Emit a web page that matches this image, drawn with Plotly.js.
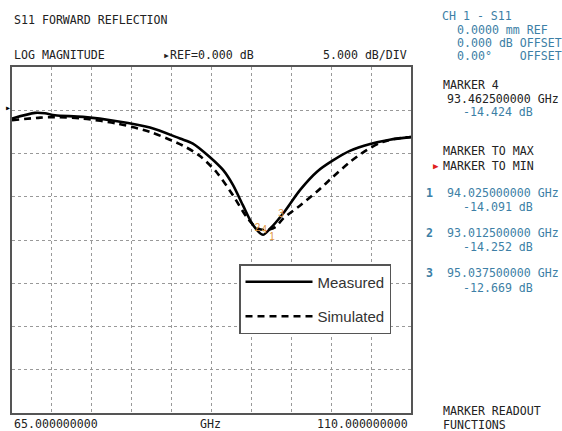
<!DOCTYPE html>
<html><head><meta charset="utf-8">
<script src="https://cdn.plot.ly/plotly-3.0.1.min.js"></script>
<style>html,body{margin:0;padding:0;background:#fff;}#chart{width:562px;height:431px;}</style>
</head><body><div id="chart"></div>
<script>
// Measured S11 (GHz, dB)
const measFreq = [65.0, 67.6, 68.7, 69.85, 73.0, 76.85, 80.56, 83.95, 85.4, 87.3, 88.8, 89.9, 91.05, 92.2, 93.3, 94.1, 95.6, 97.5, 99.4, 101.2, 103.1, 105.4, 107.6, 110.0];
const measDb   = [-0.96, -0.3, -0.35, -0.58, -0.77, -1.27, -2.0, -3.27, -3.85, -5.4, -6.9, -8.6, -11.0, -13.3, -14.4, -13.7, -11.9, -9.2, -7.1, -5.8, -4.7, -3.9, -3.4, -3.1];
// Simulated S11
const simFreq = [65.0, 68.2, 69.85, 73.0, 76.85, 80.56, 84.3, 86.2, 88.1, 89.9, 91.5, 92.6, 93.5, 94.7, 95.6, 97.5, 99.4, 101.2, 103.1, 105.0, 106.8, 108.8, 110.0];
const simDb   = [-1.15, -0.85, -0.8, -0.96, -1.54, -2.5, -4.1, -5.3, -7.2, -9.8, -12.4, -13.6, -13.85, -13.5, -12.5, -11.0, -9.4, -7.7, -6.0, -4.6, -3.66, -3.2, -3.1];
// Instrument markers
const markerLabels = ["1", "2", "3", "4"];
const markerFreq = [94.025, 93.0125, 95.0375, 93.4625];
const markerDb = [-14.091, -14.252, -12.669, -14.424];

const L = 12, R = 411, T = 67, B = 413;
const px = x => (x - L) / (R - L);
const py = y => (B - y) / (B - T);
const MONO = "DejaVu Sans Mono, monospace";
const BLUE = "#3d7fa6";
const BLK = "#222";
function txt(text, x, y, anchor, color, extra) {
  return Object.assign({text: text, xref: "paper", yref: "paper", x: px(x), y: py(y),
    xanchor: anchor || "left", yanchor: "middle", showarrow: false,
    font: {family: MONO, size: 11.6, color: color || BLK}}, extra || {});
}

const traces = [
  {x: measFreq, y: measDb, name: "Measured", mode: "lines", line: {color: "#000", width: 2.6, shape: "spline", smoothing: 0.8}, legendgroup: "a"},
  {x: simFreq, y: simDb, name: "Simulated", mode: "lines", line: {color: "#000", width: 2.6, dash: "7px,5px", shape: "spline", smoothing: 0.8}, legendgroup: "b"},
  {x: markerFreq, y: markerDb, text: markerLabels, mode: "text",
   textposition: ["bottom right", "top left", "top right", "top center"], showlegend: false,
   textfont: {family: "Liberation Sans", size: 10, color: "#e0953e"}}
];

const annotations = [
  txt("S11 FORWARD REFLECTION", 12, 20),
  txt("LOG MAGNITUDE", 12, 55),
  txt("\u25B8REF=0.000 dB", 161, 55),
  txt("5.000 dB/DIV", 409, 55, "right"),
  txt("\u25B8", 8, 108, "center", "#000", {font: {family: MONO, size: 10, color: "#000"}}),
  txt("CH 1 - S11", 440, 16, "left", BLUE),
  txt("0.0000 mm REF", 455, 30, "left", BLUE),
  txt("0.000 dB OFFSET", 455, 43, "left", BLUE),
  txt("0.00\u00B0    OFFSET", 455, 56, "left", BLUE),
  txt("MARKER 4", 441, 85),
  txt("93.462500000 GHz", 445, 99),
  txt("-14.424 dB", 461, 112, "left", BLUE),
  txt("MARKER TO MAX", 441, 151),
  txt("\u25B6", 431, 166, "left", "#e02020", {font: {family: MONO, size: 9, color: "#e02020"}}),
  txt("MARKER TO MIN", 441, 166),
  txt("<b>1</b>", 424, 193, "left", BLUE),
  txt("94.025000000 GHz", 445, 193, "left", BLUE),
  txt("-14.091 dB", 461, 207, "left", BLUE),
  txt("<b>2</b>", 424, 233, "left", BLUE),
  txt("93.012500000 GHz", 445, 233, "left", BLUE),
  txt("-14.252 dB", 461, 247, "left", BLUE),
  txt("<b>3</b>", 424, 273, "left", BLUE),
  txt("95.037500000 GHz", 445, 273, "left", BLUE),
  txt("-12.669 dB", 461, 288, "left", BLUE),
  txt("MARKER READOUT", 441, 411),
  txt("FUNCTIONS", 441, 425),
  txt("65.000000000", 12, 424),
  txt("GHz", 210, 424, "center"),
  txt("110.000000000", 410, 424, "right")
];

const layout = {
  width: 562, height: 431,
  margin: {l: L, r: 562 - R, t: T, b: 431 - B, pad: 0},
  paper_bgcolor: "#fff", plot_bgcolor: "#fff",
  showlegend: true,
  legend: {x: px(239), y: py(264), xanchor: "left", yanchor: "top",
    bgcolor: "#fff", bordercolor: "#555", borderwidth: 1.5,
    font: {family: "Liberation Sans, Arial", size: 15, color: "#333"},
    itemwidth: 67, tracegroupgap: 12},
  xaxis: {range: [65, 110], dtick: 4.5, tick0: 65, showticklabels: false, ticks: "",
    showgrid: true, gridcolor: "#999", griddash: "dot", gridwidth: 1,
    showline: true, linecolor: "#555", linewidth: 2, mirror: true, zeroline: false, fixedrange: true},
  yaxis: {range: [-35, 5], dtick: 5, tick0: 0, showticklabels: false, ticks: "",
    showgrid: true, gridcolor: "#999", griddash: "dot", gridwidth: 1,
    showline: true, linecolor: "#555", linewidth: 2, mirror: true, zeroline: false, fixedrange: true},
  annotations: annotations
};

Plotly.newPlot("chart", traces, layout, {displayModeBar: false, staticPlot: true});
</script></body></html>
